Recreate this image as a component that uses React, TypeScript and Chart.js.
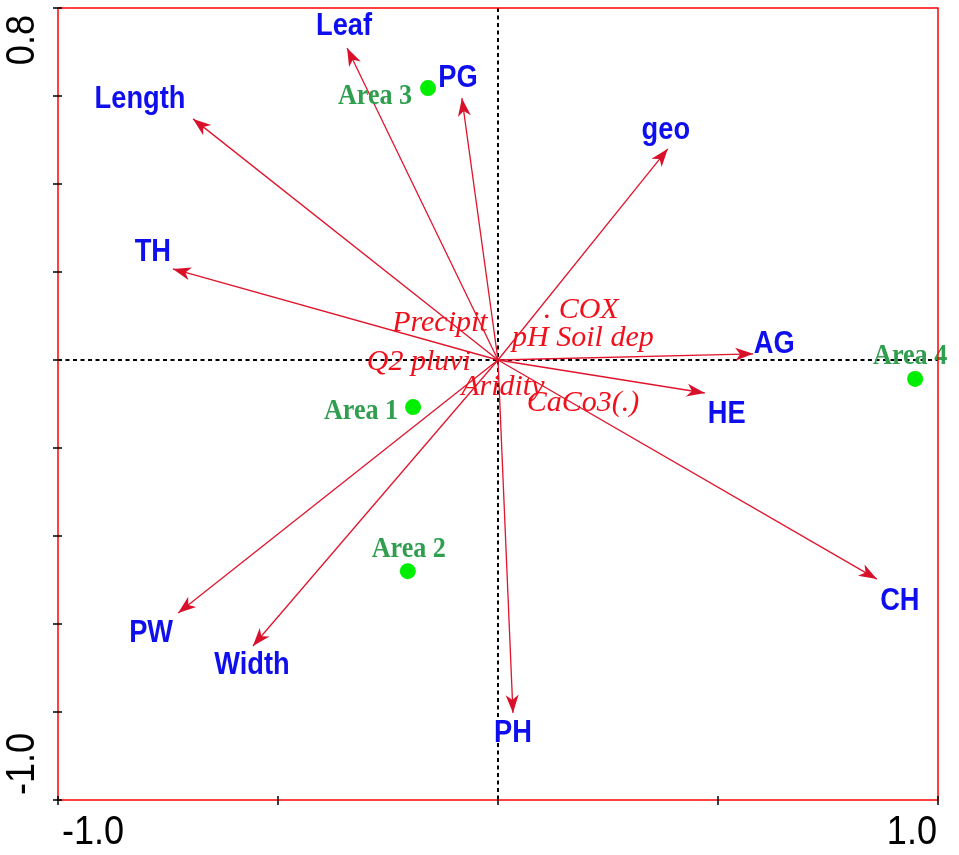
import React, { useEffect, useRef } from "react";
import { Chart, registerables } from "chart.js";

Chart.register(...registerables);

// ---- data (ordination scores) ----
const speciesNames = ["Leaf", "Length", "PG", "geo", "TH", "AG", "HE", "CH", "PH", "Width", "PW"];
const speciesX = [-0.343, -0.693, -0.082, 0.386, -0.739, 0.58, 0.47, 0.861, 0.034, -0.557, -0.727];
const speciesY = [0.709, 0.548, 0.595, 0.48, 0.207, 0.014, -0.075, -0.498, -0.802, -0.65, -0.575];

const siteNames = ["Area 1", "Area 2", "Area 3", "Area 4"];
const siteX = [-0.193, -0.205, -0.159, 0.948];
const siteY = [-0.107, -0.48, 0.618, -0.043];

const envNames = ["Precipit", ". COX", "pH Soil dep", "Q2 pluvi", "Aridity", "CaCo3(.)"];
const envX = [-0.132, 0.189, 0.193, -0.18, 0.011, 0.193];
const envY = [0.084, 0.114, 0.05, -0.005, -0.061, -0.098];

const xTickValues = [-1, -0.5, 0, 0.5, 1];
const yTickValues = [-1, -0.8, -0.6, -0.4, -0.2, 0, 0.2, 0.4, 0.6, 0.8];
const xLabelValues = [-1, 1];
const xLabelTexts = ["-1.0", "1.0"];
const yLabelValues = [-1, 0.8];
const yLabelTexts = ["-1.0", "0.8"];

// ---- styles / label placement (pixels) ----
const speciesLabelOffsets: [number, number][] = [
  [-3, -22], [-53, -20], [-4, -20], [-2, -19], [-20, -17], [21, -10],
  [22, 21], [23, 22], [0, 20], [-1, 19], [-27, 20],
];
const siteLabelOffsets: [number, number][] = [[-52, 4], [1, -22], [-53, 8], [-5, -22]];

const ARROW = "#e0142c";
const ENV_TXT = "#f0101c";
const BLUE = "#0e0eee";
const GREEN_TXT = "#2f9e4e";
const GREEN_PT = "#00ee00";
const SANS = "'Liberation Sans', Arial, sans-serif";
const SERIF = "'Liberation Serif', 'Times New Roman', serif";

function drawText(
  ctx: CanvasRenderingContext2D,
  text: string,
  px: number,
  py: number,
  font: string,
  color: string,
  opts: { sx?: number; sy?: number; rotate?: number; align?: CanvasTextAlign } = {}
) {
  ctx.save();
  ctx.translate(px, py);
  if (opts.rotate) ctx.rotate(opts.rotate);
  ctx.scale(opts.sx ?? 1, opts.sy ?? 1);
  ctx.font = font;
  ctx.fillStyle = color;
  ctx.textAlign = opts.align ?? "center";
  ctx.textBaseline = "middle";
  ctx.fillText(text, 0, 0);
  ctx.restore();
}

const biplotPlugin = {
  id: "biplot",
  beforeDatasetsDraw(chart: any) {
    const { ctx, chartArea: a, scales } = chart;
    const x0 = scales.x.getPixelForValue(0);
    const y0 = scales.y.getPixelForValue(0);
    ctx.save();
    ctx.strokeStyle = "#000";
    ctx.lineWidth = 2;
    ctx.setLineDash([4, 3.5]);
    ctx.beginPath();
    ctx.moveTo(a.left, y0);
    ctx.lineTo(a.right, y0);
    ctx.moveTo(x0, a.top);
    ctx.lineTo(x0, a.bottom);
    ctx.stroke();
    ctx.restore();
  },
  afterDatasetsDraw(chart: any) {
    const { ctx, chartArea: a, scales } = chart;
    const sx = scales.x, sy = scales.y;
    const ox = sx.getPixelForValue(0);
    const oy = sy.getPixelForValue(0);

    // arrowheads
    ctx.save();
    ctx.fillStyle = "#d8102a";
    speciesX.forEach((vx, i) => {
      const tx = sx.getPixelForValue(vx);
      const ty = sy.getPixelForValue(speciesY[i]);
      const ang = Math.atan2(ty - oy, tx - ox);
      const L = 18, W = 6.5, N = 13;
      const c = Math.cos(ang), s = Math.sin(ang);
      ctx.beginPath();
      ctx.moveTo(tx, ty);
      ctx.lineTo(tx - L * c + W * s, ty - L * s - W * c);
      ctx.lineTo(tx - N * c, ty - N * s);
      ctx.lineTo(tx - L * c - W * s, ty - L * s + W * c);
      ctx.closePath();
      ctx.fill();
    });
    ctx.restore();

    // species labels
    speciesNames.forEach((name, i) => {
      const tx = sx.getPixelForValue(speciesX[i]) + speciesLabelOffsets[i][0];
      const ty = sy.getPixelForValue(speciesY[i]) + speciesLabelOffsets[i][1];
      drawText(ctx, name, tx, ty, `bold 31px ${SANS}`, BLUE, { sx: 0.88, sy: 1.04 });
    });

    // environmental labels
    envNames.forEach((name, i) => {
      drawText(ctx, name, sx.getPixelForValue(envX[i]), sy.getPixelForValue(envY[i]), `italic 30px ${SERIF}`, ENV_TXT, {});
    });

    // site labels
    siteNames.forEach((name, i) => {
      const tx = sx.getPixelForValue(siteX[i]) + siteLabelOffsets[i][0];
      const ty = sy.getPixelForValue(siteY[i]) + siteLabelOffsets[i][1];
      drawText(ctx, name, tx, ty, `bold 29px ${SERIF}`, GREEN_TXT, { sx: 0.9 });
    });

    // frame
    ctx.save();
    ctx.strokeStyle = "#ff0000";
    ctx.lineWidth = 1.5;
    ctx.strokeRect(a.left, a.top, a.right - a.left, a.bottom - a.top);
    // ticks
    ctx.strokeStyle = "#000";
    ctx.lineWidth = 1.5;
    ctx.beginPath();
    yTickValues.forEach((v) => {
      const py = sy.getPixelForValue(v);
      ctx.moveTo(a.left - 5, py);
      ctx.lineTo(a.left + 4, py);
    });
    xTickValues.forEach((v) => {
      const px = sx.getPixelForValue(v);
      ctx.moveTo(px, a.bottom - 4);
      ctx.lineTo(px, a.bottom + 5);
    });
    ctx.stroke();
    ctx.restore();

    // tick labels
    const tickFont = `41px ${SANS}`;
    xLabelValues.forEach((v, i) => {
      const px = sx.getPixelForValue(v);
      const first = i === 0;
      drawText(ctx, xLabelTexts[i], first ? px + 4 : px - 1, a.bottom + 33, tickFont, "#000", {
        sx: 0.88,
        align: first ? "left" : "right",
      });
    });
    yLabelValues.forEach((v, i) => {
      const py = sy.getPixelForValue(v);
      const isTop = v > 0;
      drawText(ctx, yLabelTexts[i], 23, isTop ? py + 7 : py - 5, tickFont, "#000", {
        sx: 0.88,
        rotate: -Math.PI / 2,
        align: isTop ? "right" : "left",
      });
    });
  },
};

export default function App() {
  const ref = useRef<HTMLCanvasElement>(null);
  useEffect(() => {
    const arrowSets = speciesNames.map((name, i) => ({
      label: name,
      data: [
        { x: 0, y: 0 },
        { x: speciesX[i], y: speciesY[i] },
      ],
      showLine: true,
      borderColor: ARROW,
      borderWidth: 1.3,
      pointRadius: 0,
      fill: false,
    }));
    const siteSet = {
      label: "sites",
      data: siteX.map((x, i) => ({ x, y: siteY[i] })),
      showLine: false,
      pointRadius: 8,
      pointBackgroundColor: GREEN_PT,
      pointBorderWidth: 0,
      borderColor: GREEN_PT,
    };
    const chart = new Chart(ref.current!, {
      type: "scatter",
      data: { datasets: [...arrowSets, siteSet] as any },
      options: {
        responsive: false,
        animation: false,
        events: [],
        layout: { padding: { left: 58, top: 8, right: 21, bottom: 55 } },
        plugins: { legend: { display: false }, tooltip: { enabled: false } },
        scales: {
          x: { type: "linear", min: -1, max: 1, display: false },
          y: { type: "linear", min: -1, max: 0.8, display: false },
        },
      },
      plugins: [biplotPlugin],
    });
    return () => chart.destroy();
  }, []);
  return (
    <div style={{ position: "fixed", left: 0, top: 0, width: 959, height: 855, background: "#fff" }}>
      <canvas ref={ref} width={959} height={855} style={{ width: 959, height: 855, display: "block" }} />
    </div>
  );
}
